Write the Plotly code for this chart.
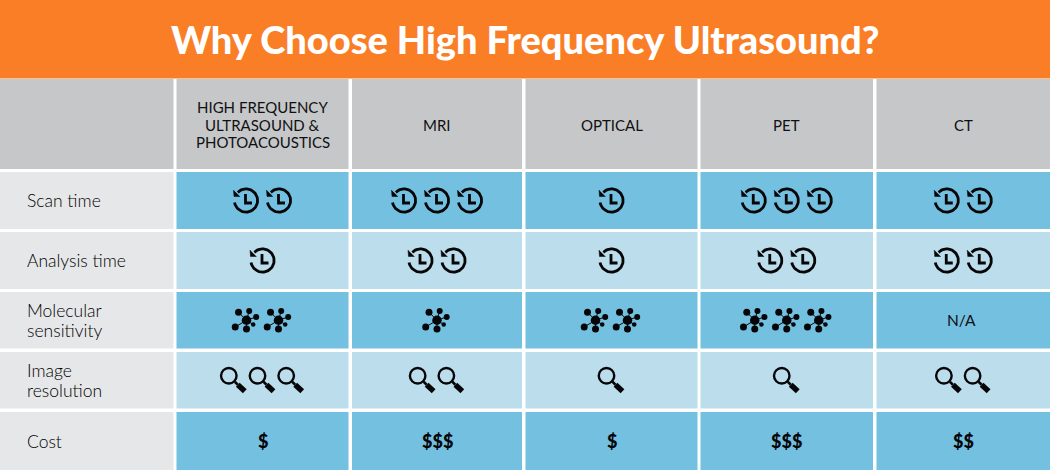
import numpy as np
import plotly.graph_objects as go

# table content
title = "Why Choose High Frequency Ultrasound?"
columns = ["HIGH FREQUENCY<br>ULTRASOUND &<br>PHOTOACOUSTICS", "MRI", "OPTICAL", "PET", "CT"]
rows = ["Scan time", "Analysis time", "Molecular<br>sensitivity", "Image<br>resolution", "Cost"]
scan_time = [2, 3, 1, 3, 2]
analysis_time = [1, 2, 1, 2, 2]
molecular = [2, 1, 2, 3, "N/A"]
image_res = [3, 2, 1, 1, 2]
cost = ["$", "$$$", "$", "$$$", "$$"]

# layout in pixels
col_left = [0, 176.5, 352, 525.5, 700.5, 876.5]
col_right = [173.5, 348.5, 522, 697.5, 873, 1050]
row_top = [79, 172, 232, 292, 352, 412]
row_bottom = [169, 229, 289, 348.5, 408.5, 470]
ORANGE = "#F97E26"
GREY = "#C6C7C9"
PALE = "#E6E7E9"
BLUE = "#74C0E0"
LIGHT = "#BBDDEC"
INK = "#060608"
TEXT = "#101012"
FONT = "Lato"

col_mid = [(a + b) / 2 for a, b in zip(col_left, col_right)]
row_mid = [(a + b) / 2 for a, b in zip(row_top, row_bottom)]

fig = go.Figure()

# cells
bx, bw, bb, bh, bc = [], [], [], [], []
def cell(l, r, t, b, c):
    bx.append((l + r) / 2); bw.append(r - l); bb.append(t); bh.append(b - t); bc.append(c)

cell(0, 1050, 0, 78.5, ORANGE)
for r in range(6):
    for c in range(6):
        if r == 0:
            colr = GREY
        elif c == 0:
            colr = PALE
        else:
            colr = BLUE if r % 2 == 1 else LIGHT
        cell(col_left[c], col_right[c], row_top[r], row_bottom[r], colr)
fig.add_trace(go.Bar(x=bx, y=bh, base=bb, width=bw, marker=dict(color=bc, line=dict(width=0)), hoverinfo="skip"))

# icon geometry
line_x, line_y = [], []
tri_x, tri_y = [], []
def clock(cx, cy):
    t = np.radians(np.linspace(-135, 170, 50))
    line_x.extend(list(cx + 11.6 * np.cos(t)) + [None])
    line_y.extend(list(cy + 11.6 * np.sin(t)) + [None])
    line_x.extend([cx - 0.5, cx - 0.5, cx + 6, None])
    line_y.extend([cy - 6.5, cy + 2.5, cy + 2.5, None])
    tri_x.extend([cx - 12.5, cx - 12, cx - 6, None])
    tri_y.extend([cy - 10.5, cy - 4, cy - 4, None])

mol_x, mol_y, mol_s = [], [], []
mol_line_x, mol_line_y = [], []
MOL = [(-8, -8, 7), (2.7, -9.3, 6), (9.7, -3.3, 6), (6.7, 4.3, 4.5), (0, 8.7, 7), (-11.3, 6.7, 7)]
def molecule(cx, cy):
    mol_x.append(cx); mol_y.append(cy); mol_s.append(9.5)
    for dx, dy, s in MOL:
        mol_x.append(cx + dx); mol_y.append(cy + dy); mol_s.append(s)
        mol_line_x.extend([cx, cx + dx, None]); mol_line_y.extend([cy, cy + dy, None])

glass_x, glass_y = [], []
neck_x, neck_y = [], []
handle_x, handle_y = [], []
def magnifier(cx, cy):
    cx, cy = cx - 5, cy - 4.5
    glass_x.append(cx); glass_y.append(cy)
    neck_x.extend([cx + 6, cx + 9, None]); neck_y.extend([cy + 6, cy + 9, None])
    handle_x.extend([cx + 9, cx + 16, None]); handle_y.extend([cy + 9, cy + 15.5, None])

def place(vals, r, spacing, draw, dy=0):
    for c, n in enumerate(vals):
        if not isinstance(n, int):
            continue
        for i in range(n):
            draw(col_mid[c + 1] + (i - (n - 1) / 2) * spacing, row_mid[r] + dy)

place(scan_time, 1, 33, clock)
place(analysis_time, 2, 33, clock)
place(molecular, 3, 32, molecule)
place(image_res, 4, 28.7, magnifier)

fig.add_trace(go.Scatter(x=line_x, y=line_y, mode="lines", line=dict(color=INK, width=2.8), hoverinfo="skip"))
fig.add_trace(go.Scatter(x=tri_x, y=tri_y, mode="lines", fill="toself", fillcolor=INK, line=dict(color=INK, width=0.5), hoverinfo="skip"))
fig.add_trace(go.Scatter(x=mol_line_x, y=mol_line_y, mode="lines", line=dict(color=INK, width=1), hoverinfo="skip"))
fig.add_trace(go.Scatter(x=mol_x, y=mol_y, mode="markers", marker=dict(color=INK, size=mol_s, opacity=1, line=dict(width=0)), hoverinfo="skip"))
fig.add_trace(go.Scatter(x=glass_x, y=glass_y, mode="markers", marker=dict(symbol="circle-open", color=INK, size=15.5, opacity=1, line=dict(width=2.4, color=INK)), hoverinfo="skip"))
fig.add_trace(go.Scatter(x=neck_x, y=neck_y, mode="lines", line=dict(color=INK, width=2.5), hoverinfo="skip"))
fig.add_trace(go.Scatter(x=handle_x, y=handle_y, mode="lines", line=dict(color=INK, width=5.5), hoverinfo="skip"))

# text, multi-line labels are placed line by line to keep the leading
def label(x, y, text, size, color=TEXT, anchor="center", weight="normal", leading=20):
    parts = text.split("<br>")
    for i, part in enumerate(parts):
        fig.add_annotation(x=x, y=y + (i - (len(parts) - 1) / 2) * leading, text=part, showarrow=False,
                           xanchor=anchor, yanchor="middle", font=dict(family=FONT, size=size, color=color, weight=weight))

label(525, 39, title, 38, "white", weight=900)
for c, t in enumerate(columns):
    label(col_mid[c + 1], 124.5, t, 15, leading=17.5)
for r, t in enumerate(rows):
    label(25, row_mid[r + 1], t, 17.5, "#000000", anchor="left", weight=300)
label(col_mid[5] - 2, row_mid[3], molecular[4], 15.5)
for c, t in enumerate(cost):
    label(col_mid[c + 1], row_mid[5], t, 18, INK, weight=900)

fig.update_xaxes(range=[0, 1050], visible=False, fixedrange=True)
fig.update_yaxes(range=[470, 0], visible=False, fixedrange=True)
fig.update_layout(width=1050, height=470, margin=dict(l=0, r=0, t=0, b=0), showlegend=False, plot_bgcolor="white", paper_bgcolor="white")

fig.write_html("out.html", config={"displayModeBar": False}, post_script="document.body.style.margin='0';")
